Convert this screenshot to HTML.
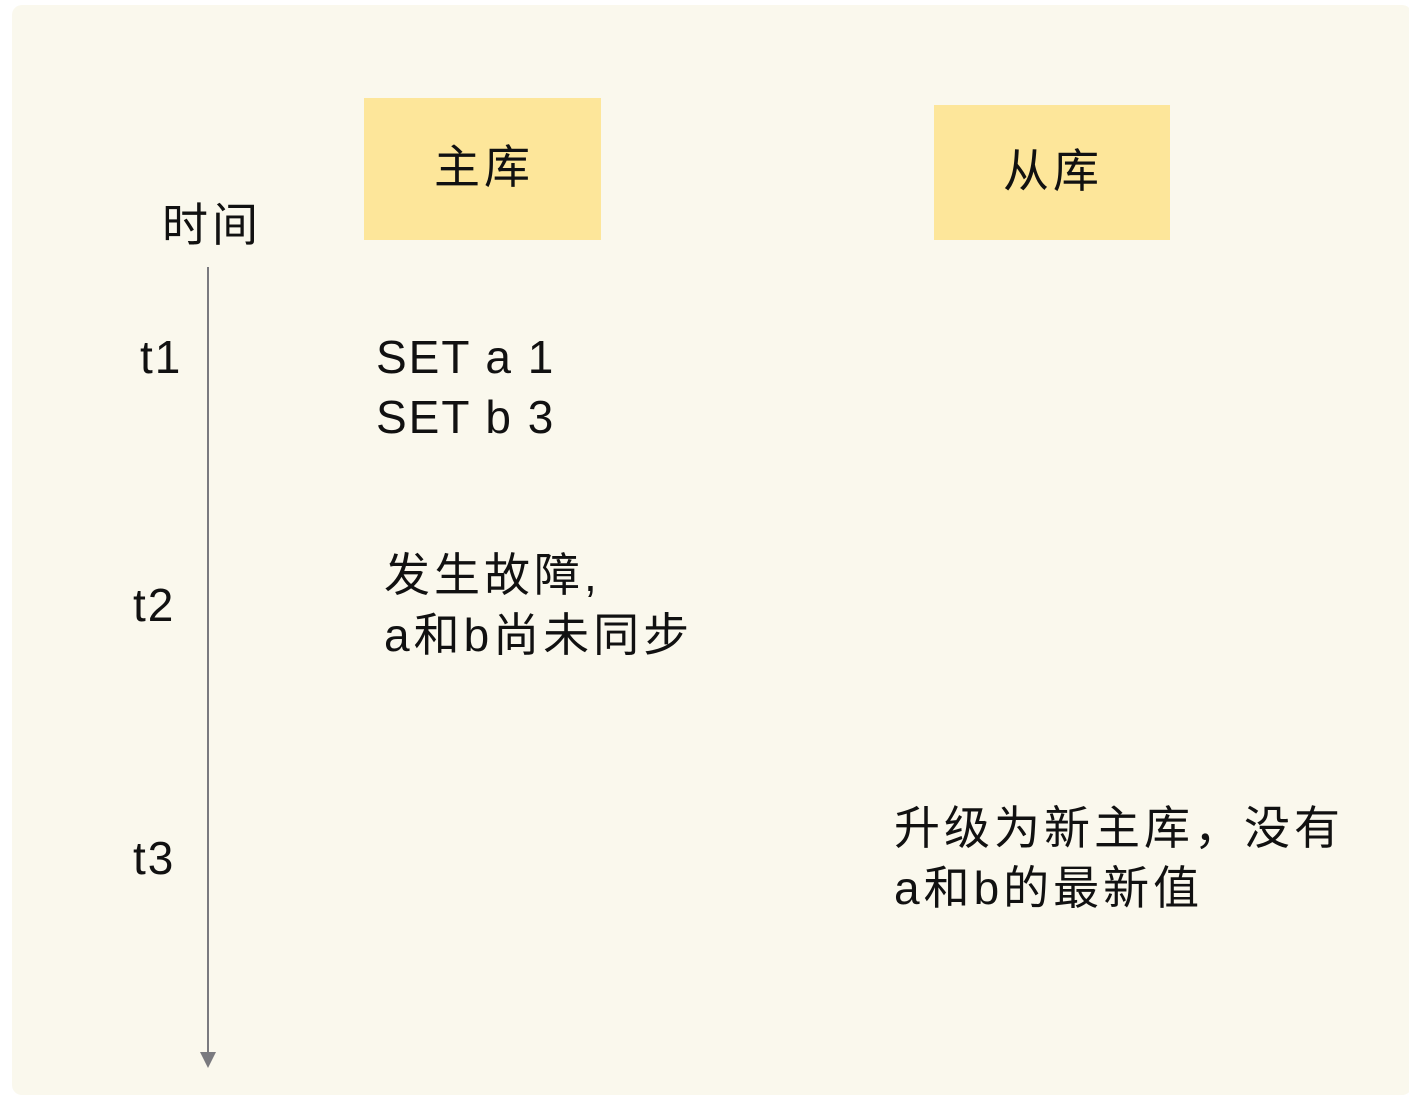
<!DOCTYPE html>
<html><head><meta charset="utf-8"><style>
body{margin:0;width:1409px;height:1089px;background:#fff;position:relative;overflow:hidden;font-family:"Liberation Sans","Noto Sans CJK SC",sans-serif;color:#111}
.bg{position:absolute;left:12px;top:5px;width:1400px;height:1090px;background:#faf8ed;border-radius:10px}
.box{position:absolute;background:#fde69a}
.t{position:absolute;font-size:46px;line-height:60px;white-space:nowrap;letter-spacing:4px}
.l{letter-spacing:2px}
</style></head><body>
<div class="bg"></div>
<div class="box" style="left:364px;top:98px;width:237px;height:142px"></div>
<div class="box" style="left:934px;top:105px;width:236px;height:135px"></div>
<div class="t" style="left:434px;top:137px">主库</div>
<div class="t" style="left:1003px;top:141px">从库</div>
<div class="t" style="left:162px;top:195px">时间</div>
<svg style="position:absolute;left:0;top:0" width="1409" height="1089">
<line x1="208" y1="267" x2="208" y2="1054" stroke="#7a7a7f" stroke-width="2"/>
<polygon points="200,1052 216,1052 208,1068" fill="#7a7a7f"/>
</svg>
<div class="t l" style="left:140px;top:327px">t1</div>
<div class="t l" style="left:133px;top:575px">t2</div>
<div class="t l" style="left:133px;top:828px">t3</div>
<div class="t l" style="left:376px;top:327px">SET a 1<br>SET b 3</div>
<div class="t" style="left:384px;top:545px">发生故障,<br>a和b尚未同步</div>
<div class="t" style="left:894px;top:798px">升级为新主库，没有<br>a和b的最新值</div>
</body></html>
